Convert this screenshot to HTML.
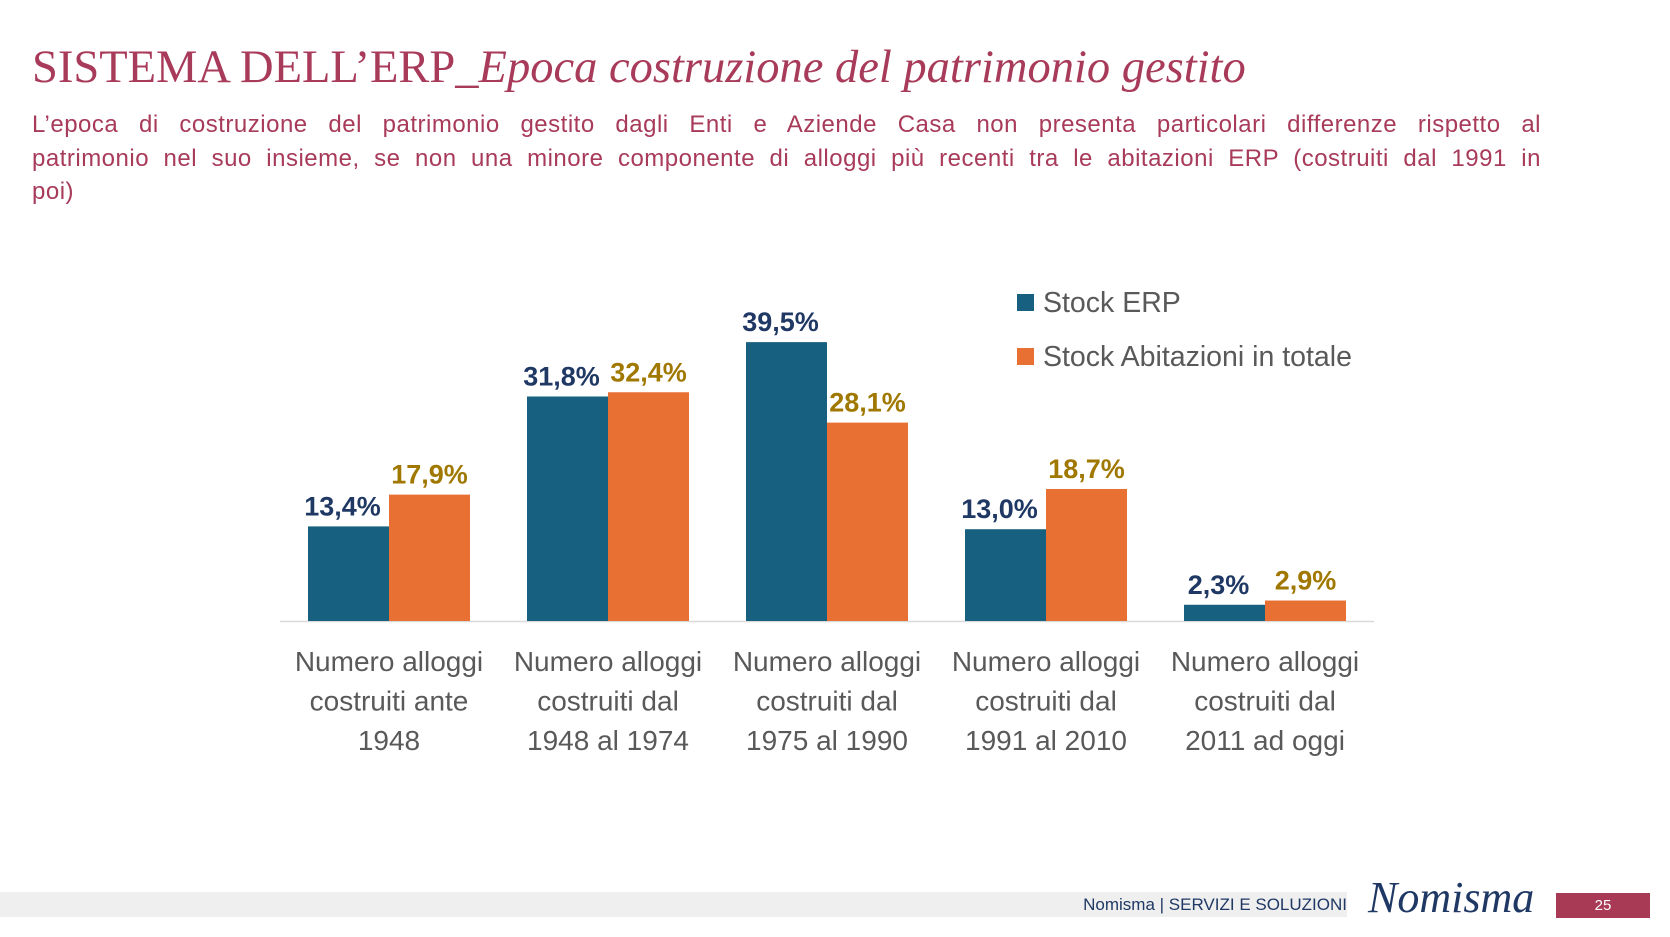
<!DOCTYPE html>
<html><head><meta charset="utf-8"><style>
body{margin:0;width:1670px;height:937px;background:#fff;position:relative;overflow:hidden;font-family:"Liberation Sans",sans-serif}
#title{position:absolute;left:32px;top:41px;font-family:"Liberation Serif",serif;font-size:46.5px;color:#a83a5a;white-space:nowrap;letter-spacing:0px}
#sub{position:absolute;left:32px;top:108px;width:1509px;font-size:24px;line-height:33.5px;color:#a83a5a;letter-spacing:0.5px}
#sub div{text-align:justify;text-align-last:justify;white-space:nowrap}
#sub div.last{text-align-last:left}
#footer-bar{position:absolute;left:0;top:892px;width:1347px;height:25px;background:#efefef}
#footer-text{position:absolute;right:323px;top:893px;font-size:17px;color:#1f3864;line-height:24px}
#logo{position:absolute;left:1368px;top:872px;font-family:"Liberation Serif",serif;font-style:italic;font-size:44px;color:#1f3864}
#page{position:absolute;left:1556px;top:893px;width:94px;height:25px;background:#a83a55;color:#fff;font-size:15px;text-align:center;line-height:25px}
</style></head><body>
<div id="title">SISTEMA DELL’ERP_<i>Epoca costruzione del patrimonio gestito</i></div>
<div id="sub"><div style="white-space:normal">L’epoca di costruzione del patrimonio gestito dagli Enti e Aziende Casa non presenta particolari differenze rispetto al</div><div style="white-space:normal">patrimonio nel suo insieme, se non una minore componente di alloggi più recenti tra le abitazioni ERP (costruiti dal 1991 in</div><div class="last">poi)</div></div>
<svg id="chart" width="1670" height="937" style="position:absolute;left:0;top:0"></svg>
<div id="footer-bar"></div>
<div id="footer-text">Nomisma | SERVIZI E SOLUZIONI</div>
<div id="logo">Nomisma</div>
<div id="page">25</div>
<script>
const categories=[["Numero alloggi","costruiti ante","1948"],["Numero alloggi","costruiti dal","1948 al 1974"],["Numero alloggi","costruiti dal","1975 al 1990"],["Numero alloggi","costruiti dal","1991 al 2010"],["Numero alloggi","costruiti dal","2011 ad oggi"]];
const erp=[13.4,31.8,39.5,13.0,2.3];
const totale=[17.9,32.4,28.1,18.7,2.9];
const seriesNames=["Stock ERP","Stock Abitazioni in totale"];
const NS="http://www.w3.org/2000/svg";
const svg=document.getElementById('chart');
const base=621, pxPer=7.06, x0=389, step=219, bw=81;
const y=v=>base-v*pxPer;
const xc=i=>x0+i*step;
function mk(t,a){const e=document.createElementNS(NS,t);for(const k in a)e.setAttribute(k,a[k]);svg.appendChild(e);return e;}
const ax=mk('line',{x1:280,x2:1374,y1:base+0.5,y2:base+0.5,stroke:'#d9d9d9','stroke-width':1.5});


const fmt=v=>v.toFixed(1).replace('.',',')+'%';
categories.forEach((c,i)=>{
  [[erp,'#17607f','#1f3864',-1],[totale,'#e87033','#a07800',0]].forEach(([arr,fill,tc,off],s)=>{
    const x=xc(i)+off*bw;
    const r=mk('rect',{x:x,y:y(arr[i]),width:bw,height:arr[i]*pxPer,fill:fill});
    
    
    const t=mk('text',{x:x+bw/2-(s?0:6),y:y(arr[i])-11,'text-anchor':'middle','font-size':27,'font-weight':'bold',fill:tc,'font-family':'Liberation Sans'});
    t.textContent=fmt(arr[i]);
    
    
  });
  c.forEach((ln,j)=>{
    const t=mk('text',{x:xc(i),y:671+j*39.5,'text-anchor':'middle','font-size':28,fill:'#595959','font-family':'Liberation Sans'});
    t.textContent=ln;
    
    
  });
});
['#17607f','#e87033'].forEach((col,k)=>{
  const r=mk('rect',{x:1017,y:294+k*54,width:17,height:17,fill:col});
  
  
  const t=mk('text',{x:1043,y:312+k*54,'font-size':28.5,fill:'#595959','font-family':'Liberation Sans'});
  t.textContent=seriesNames[k];
  
  
});
</script>
</body></html>
